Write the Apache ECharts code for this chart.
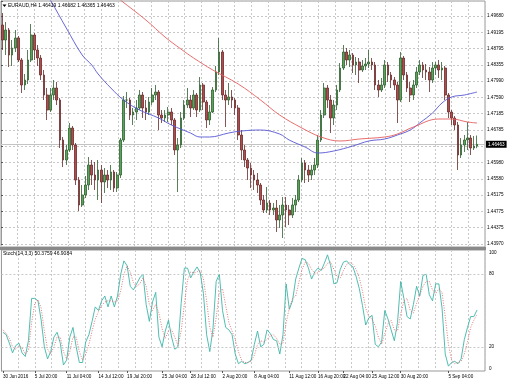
<!DOCTYPE html>
<html><head><meta charset="utf-8">
<script src="https://cdn.jsdelivr.net/npm/echarts@6/dist/echarts.min.js"></script>
<style>html,body{margin:0;padding:0;background:#fff}#c{width:510px;height:382px}</style>
</head><body><div id="c"></div>
<script>
// ---- data ----
const symbolName = 'EURAUD,H4';
const firstOpen = 1.49445;
const closes = [1.4907,1.4932,1.48695,1.4887,1.4912,1.4857,1.47945,1.4807,1.4857,1.49195,
1.4882,1.4862,1.48195,1.47695,1.4732,1.47695,1.4787,1.4757,1.4657,1.4607,
1.4632,1.4687,1.46445,1.4557,1.44945,1.45195,1.45445,1.45945,1.45695,1.4557,
1.4582,1.4552,1.45695,1.4557,1.4577,1.4537,1.45695,1.4657,1.4757,1.4757,
1.47195,1.4727,1.4737,1.47695,1.4737,1.4727,1.4752,1.47695,1.4777,1.47195,
1.4712,1.47195,1.4727,1.4707,1.4632,1.46445,1.4712,1.47445,1.4757,1.4737,
1.47695,1.4732,1.47945,1.4752,1.4707,1.4727,1.4782,1.4827,1.4877,1.47695,
1.4757,1.47645,1.4757,1.4737,1.46695,1.4632,1.4607,1.4587,1.45695,1.4557,
1.45445,1.4507,1.4482,1.44995,1.4482,1.4487,1.4457,1.44695,1.44945,1.4482,
1.44695,1.44945,1.4507,1.4557,1.45995,1.4582,1.45695,1.4582,1.45945,1.4657,
1.47195,1.4787,1.4757,1.4712,1.47445,1.4782,1.4837,1.4877,1.4857,1.48695,
1.48445,1.4852,1.4832,1.4842,1.4847,1.4852,1.48445,1.47945,1.4782,1.47945,
1.48445,1.48195,1.4807,1.47945,1.4757,1.4862,1.48195,1.4787,1.47695,1.47945,
1.4827,1.48445,1.4832,1.4827,1.4807,1.4837,1.48445,1.4832,1.4837,1.47695,
1.4727,1.4712,1.46945,1.46195,1.46445,1.4657,1.4662,1.4637,1.46419,1.46463];
const highs = [1.49745,1.4952,1.4937,1.4907,1.4932,1.4917,1.4862,1.4822,1.4882,1.4947,
1.49245,1.48945,1.48695,1.4832,1.4787,1.4787,1.4807,1.4802,1.4762,1.46645,
1.46445,1.46995,1.4692,1.46495,1.45645,1.45445,1.4567,1.46145,1.4607,1.4602,
1.4607,1.45945,1.4587,1.4582,1.45945,1.4582,1.4577,1.4662,1.4767,1.4777,
1.4762,1.4737,1.4757,1.4782,1.4777,1.4757,1.47645,1.4787,1.47945,1.4782,
1.4732,1.4732,1.47395,1.4737,1.4712,1.4662,1.4727,1.4757,1.4787,1.47695,
1.4782,1.47745,1.48145,1.47995,1.4757,1.47445,1.47895,1.4842,1.4912,1.4882,
1.4782,1.47995,1.4782,1.4762,1.47445,1.4682,1.46445,1.4612,1.45995,1.4582,
1.45745,1.45495,1.45195,1.45395,1.4507,1.44995,1.4507,1.44945,1.45145,1.45145,
1.44945,1.4512,1.45195,1.45695,1.4612,1.4607,1.45945,1.45945,1.4612,1.46695,
1.4732,1.47995,1.47945,1.47695,1.4757,1.47945,1.48495,1.48945,1.4887,1.4882,
1.48745,1.48645,1.4862,1.4857,1.4862,1.4882,1.4862,1.4852,1.4807,1.4812,
1.4857,1.4852,1.4827,1.48145,1.4802,1.4877,1.4867,1.4827,1.4802,1.4807,
1.48395,1.4857,1.4852,1.4847,1.48395,1.4852,1.4852,1.4857,1.4852,1.4842,
1.47745,1.4732,1.4717,1.4702,1.4662,1.46695,1.4702,1.46695,1.4667,1.46682];
const lows = [1.4882,1.48695,1.48395,1.4842,1.4877,1.4852,1.47745,1.4782,1.4797,1.4852,
1.4857,1.4842,1.4807,1.4757,1.4707,1.4727,1.4757,1.47445,1.4637,1.45895,
1.45945,1.4627,1.4632,1.45445,1.44795,1.44895,1.4512,1.4532,1.45445,1.4532,
1.4507,1.44995,1.45245,1.4537,1.4532,1.4527,1.4527,1.4562,1.4652,1.4737,
1.4707,1.46945,1.4707,1.4732,1.4712,1.4707,1.47195,1.47445,1.4757,1.4682,
1.46995,1.4702,1.4702,1.46945,1.46195,1.4527,1.4637,1.4707,1.4737,1.47145,
1.4732,1.47145,1.4727,1.4732,1.4687,1.46945,1.47245,1.4777,1.48195,1.4757,
1.46895,1.47445,1.4737,1.47195,1.4657,1.4607,1.45895,1.4557,1.4537,1.4532,
1.45245,1.44945,1.44745,1.44745,1.44695,1.44695,1.4427,1.4437,1.4412,1.44395,
1.44445,1.4462,1.4477,1.4502,1.4552,1.45495,1.4552,1.4557,1.45695,1.4587,
1.4652,1.4712,1.4737,1.46745,1.46945,1.4732,1.4777,1.4832,1.48445,1.48395,
1.48245,1.48195,1.47995,1.4827,1.4832,1.4837,1.4832,1.4782,1.47645,1.4777,
1.4787,1.4802,1.4787,1.4782,1.46995,1.4752,1.4807,1.4777,1.4752,1.4757,
1.4787,1.48195,1.4812,1.4807,1.4777,1.47995,1.48195,1.4812,1.4807,1.4757,
1.4712,1.46945,1.4682,1.4582,1.4612,1.4627,1.4632,1.46195,1.4632,1.46365];
const maBlueIdx = [9,15,20,25,28,30,34,38,43,49,53,59,62,65,71,75,81,87,90,95,99,104,110,115,120,124,128,131,135,138,141,145,149];
const maBlueVal = [1.5087,1.5007,1.4937,1.48695,1.48445,1.4822,1.4787,1.4757,1.4732,1.4712,1.46945,1.46745,1.46645,1.46645,1.46745,1.46795,1.4682,1.4672,1.4657,1.46395,1.46245,1.46295,1.4642,1.46545,1.46595,1.46695,1.4682,1.46995,1.47245,1.47495,1.47645,1.47695,1.4777];
const maRedIdx = [30,37,45,51,56,60,66,74,81,87,94,100,106,112,120,124,129,137,141,146,149];
const maRedVal = [1.5052,1.5007,1.4957,1.49145,1.48845,1.4862,1.4832,1.4797,1.4757,1.47195,1.4687,1.46645,1.46545,1.46595,1.46645,1.4672,1.46895,1.47095,1.47095,1.4702,1.46995];
const stochK = [32,30,23,15,21,23,15,12,25,60, 60,58,42,20,10,16,28,32,23,5,
9,28,36,20,7,7,24,30,41,53, 50,58,62,53,62,53,62,80,91,87,
70,67,72,77,80,55,41,57,65,28, 20,33,42,28,18,20,56,85,85,77,
82,86,81,64,30,16,35,74,80,50, 36,34,30,14,6,8,6,7,9,22,
33,20,22,34,31,26,25,14,30,72, 51,58,76,85,93,92,85,76,82,85,
83,89,96,87,72,73,84,90,91,88, 86,78,68,54,38,44,46,22,20,24,
50,43,34,25,40,74,60,45,43,55, 70,62,79,80,63,58,72,72,52,14,
4,7,8,6,10,26,36,45,45,50.3759];
const stochD = [34,31,27,20,18,21,19,14,17,40, 56,59,52,33,18,14,20,28,28,16,
10,16,28,28,16,9,14,22,33,43, 49,54,57,58,58,57,58,66,80,87,
82,73,70,72,77,70,55,50,55,48, 35,27,33,34,28,21,33,55,75,82,
81,82,83,76,58,36,28,44,65,68, 54,40,33,26,16,9,7,7,8,13,
22,25,24,26,29,30,27,22,23,40, 52,60,62,73,84,90,89,84,81,81,
84,85,89,90,84,78,77,83,88,90, 88,84,77,66,52,45,43,37,28,22,
31,39,42,34,33,47,58,60,50,48, 56,63,70,74,74,67,64,68,65,45,
22,9,6,7,8,14,24,36,42,46.9084];
const priceLabels = ['1.43970','1.44375','1.44775','1.45175','1.45580','1.45980','','1.46785','1.47185','1.47590','1.47990','1.48355','1.48795','1.49195','1.49680'];
const stochLabels = {0:'0',20:'20',80:'80',100:'100'};
const timeTickIdx = [0,10,20,30,39,50,59,69,79,90,99,107,116,125,140];
const timeTickLabels = ['30 Jun 2016','5 Jul 20:00','11 Jul 04:00','14 Jul 12:00','19 Jul 20:00','25 Jul 04:00','28 Jul 12:00','2 Aug 20:00','8 Aug 04:00','11 Aug 12:00','16 Aug 20:00','22 Aug 04:00','25 Aug 12:00','30 Aug 20:00','5 Sep 04:00'];

// ---- build ----
const SLOTS = closes.length + 2;
const cats = [];
for (let i = 0; i < SLOTS; i++) cats.push(String(i + 1));
const ohlc = closes.map((c, i) => [i === 0 ? firstOpen : closes[i - 1], c, lows[i], highs[i]]);
const last = ohlc[ohlc.length - 1];
const tickMap = {};
timeTickIdx.forEach((ix, k) => { tickMap[ix] = timeTickLabels[k]; });

const FF = 'Liberation Sans, Arial, sans-serif';
const gridLine = {show: true, lineStyle: {color: '#c8c8c8', width: 1, type: [2, 2]}};
const borderC = '#9a9a9a';

const chart = echarts.init(document.getElementById('c'), null, {renderer: 'canvas'});
chart.setOption({
  animation: false,
  backgroundColor: '#fff',
  textStyle: {fontFamily: FF},
  title: [
    {text: symbolName + ' ' + last[0].toFixed(5) + ' ' + last[3].toFixed(5) + ' ' + last[2].toFixed(5) + ' ' + last[1].toFixed(5),
     left: 8, top: 3, padding: 0, textStyle: {fontSize: 5, fontWeight: 'normal', color: '#000', fontFamily: FF}},
    {text: 'Stoch(14,3,3) ' + stochK[stochK.length - 1].toFixed(4) + ' ' + stochD[stochD.length - 1].toFixed(4),
     left: 3, top: 251, padding: 0, textStyle: {fontSize: 5, fontWeight: 'normal', color: '#000', fontFamily: FF}}
  ],
  graphic: [
    {type: 'polygon', shape: {points: [[2.5, 4.5], [6.5, 4.5], [4.5, 7]]}, style: {fill: '#000'}, z: 100},
    {type: 'rect', shape: {x: 0, y: 247, width: 486, height: 3}, style: {fill: '#8a8a8a'}, z: 100}
  ],
  grid: [
    {left: 1, top: 1, width: 484, height: 246, show: true, borderColor: borderC, borderWidth: 1, backgroundColor: '#fff'},
    {left: 1, top: 250, width: 484, height: 121, show: true, borderColor: borderC, borderWidth: 1, backgroundColor: '#fff'},
    {left: 1, top: 1, width: 484, height: 243, show: false}
  ],
  xAxis: [
    {gridIndex: 0, type: 'category', data: cats, boundaryGap: true, show: false},
    {gridIndex: 1, type: 'category', data: cats, boundaryGap: true,
     axisLine: {show: false},
     axisTick: {show: true, alignWithLabel: true, length: 2, interval: (i) => tickMap[i] !== undefined, lineStyle: {color: '#555'}},
     axisLabel: {interval: (i) => tickMap[i] !== undefined, formatter: (v) => tickMap[Number(v) - 1] || '',
       fontSize: 4.6, color: '#000', align: 'left', margin: 3, fontFamily: FF},
     splitLine: {show: false}},
    {gridIndex: 0, type: 'value', min: 0, max: 29, interval: 1, axisLine: {show: false}, axisTick: {show: false}, axisLabel: {show: false}, splitLine: gridLine},
    {gridIndex: 1, type: 'value', min: 0, max: 29, interval: 1, axisLine: {show: false}, axisTick: {show: false}, axisLabel: {show: false}, splitLine: gridLine},
    {gridIndex: 2, type: 'value', min: 0, max: 1, show: false}
  ],
  yAxis: [
    {gridIndex: 0, type: 'value', min: 1.43895, max: 1.50045, show: false},
    {gridIndex: 1, type: 'value', min: 0, max: 100, interval: 20, position: 'right',
     axisLine: {show: true, lineStyle: {color: borderC}}, axisTick: {show: false},
     axisLabel: {formatter: (v) => stochLabels[v] || '', fontSize: 4.6, color: '#000', margin: 4,
       verticalAlignMaxLabel: 'top', verticalAlignMinLabel: 'bottom', fontFamily: FF},
     splitLine: {show: false}},
    {gridIndex: 2, type: 'value', min: 0, max: 14.921, interval: 1, position: 'right',
     axisLine: {show: true, lineStyle: {color: borderC}},
     axisTick: {show: true, length: 2, lineStyle: {color: '#555'}},
     axisLabel: {formatter: (v) => (Number.isInteger(v) && priceLabels[v]) ? priceLabels[v] : '', fontSize: 4.6, color: '#000', margin: 2, fontFamily: FF},
     splitLine: gridLine}
  ],
  series: [
    {type: 'candlestick', xAxisIndex: 0, yAxisIndex: 0, data: ohlc, barWidth: 2.2,
     itemStyle: {color: '#5aa35a', color0: '#b24c4c', borderColor: '#2f5f2f', borderColor0: '#6a2a2a', borderWidth: 0.8}},
    {type: 'line', name: 'MA1', xAxisIndex: 0, yAxisIndex: 0, data: maBlueIdx.map((x, k) => [x, maBlueVal[k]]),
     smooth: 0.4, symbol: 'none', clip: true, lineStyle: {color: '#5656d2', width: 0.9}, z: 3},
    {type: 'line', name: 'MA2', xAxisIndex: 0, yAxisIndex: 0, data: maRedIdx.map((x, k) => [x, maRedVal[k]]),
     smooth: 0.4, symbol: 'none', clip: true, lineStyle: {color: '#e45e5e', width: 0.9}, z: 3,
     markLine: {silent: true, symbol: ['none', 'none'], animation: false, z: 1, precision: 5,
       lineStyle: {color: '#c4c4c4', width: 1, type: 'solid'},
       label: {show: true, position: 'end', formatter: last[1].toFixed(5), backgroundColor: '#000', color: '#fff',
         fontSize: 4.6, padding: [1, 2, 1, 2], distance: 1, fontFamily: FF},
       data: [{yAxis: last[1]}]}},
    {type: 'line', name: '%K', xAxisIndex: 1, yAxisIndex: 1, data: stochK, symbol: 'none',
     lineStyle: {color: '#3db5a8', width: 0.9},
     markLine: {silent: true, symbol: ['none', 'none'], animation: false, label: {show: false},
       lineStyle: {color: '#c8c8c8', width: 1, type: [2, 2]}, data: [{yAxis: 20}, {yAxis: 80}]}},
    {type: 'line', name: '%D', xAxisIndex: 1, yAxisIndex: 1, data: stochD, symbol: 'none',
     lineStyle: {color: '#e06a6a', width: 0.9, type: [1, 1.5]}}
  ]
});
</script></body></html>
